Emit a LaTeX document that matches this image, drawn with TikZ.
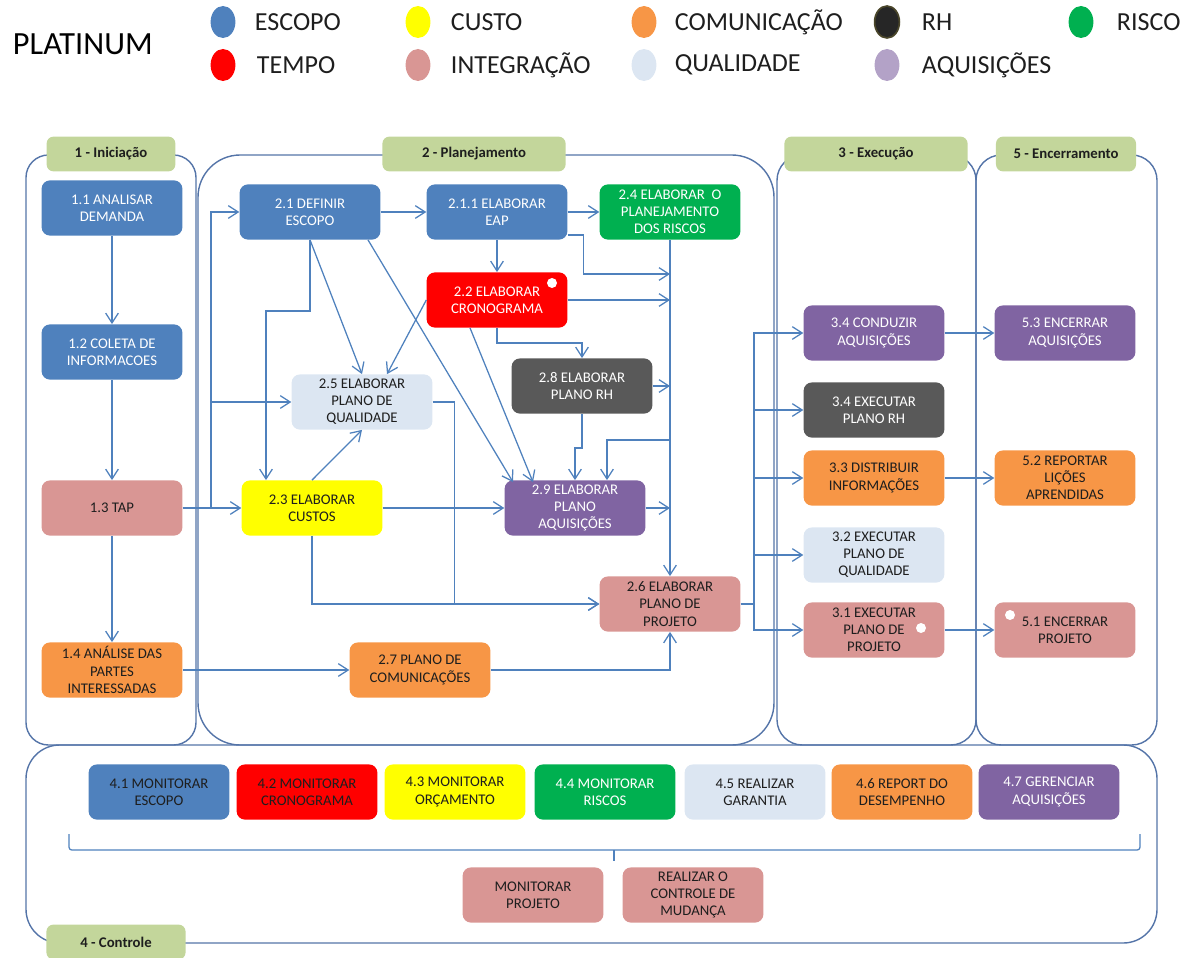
\documentclass[tikz,border=0pt]{standalone}
\usepackage{fontspec}
\setmainfont{Carlito}
\usetikzlibrary{arrows.meta, calc, shapes.geometric}
\definecolor{EscopoBlue}{RGB}{79,129,189}
\definecolor{TempoRed}{RGB}{255,0,0}
\definecolor{CustoYellow}{RGB}{255,255,0}
\definecolor{IntegPink}{RGB}{217,150,148}
\definecolor{ComOrange}{RGB}{247,150,70}
\definecolor{QualLight}{RGB}{220,230,242}
\definecolor{RhGray}{RGB}{89,89,89}
\definecolor{RiscoGreen}{RGB}{0,176,80}
\definecolor{AquPurple}{RGB}{128,100,162}
\definecolor{AquLegend}{RGB}{179,162,199}
\definecolor{RhOlive}{RGB}{74,70,42}
\definecolor{TabGreen}{RGB}{195,214,155}
\definecolor{LaneBlue}{RGB}{84,116,168}
\definecolor{ArrowBlue}{RGB}{79,129,189}
\definecolor{TextDark}{RGB}{30,30,30}

\begin{document}
\begin{tikzpicture}[x=0.025cm, y=-0.025cm,
  proc/.style={rounded corners=6pt, minimum width=3.52cm, minimum height=1.38cm,
               inner sep=1pt, align=center, text=white,
               font=\fontsize{10.5}{12.2}\selectfont},
  scopebox/.style={proc, fill=EscopoBlue},
  timebox/.style={proc, fill=TempoRed},
  costbox/.style={proc, fill=CustoYellow, text=TextDark},
  integbox/.style={proc, fill=IntegPink, text=TextDark},
  commbox/.style={proc, fill=ComOrange, text=TextDark},
  qualbox/.style={proc, fill=QualLight, text=TextDark},
  hrbox/.style={proc, fill=RhGray},
  riskbox/.style={proc, fill=RiscoGreen},
  buybox/.style={proc, fill=AquPurple},
  tab/.style={fill=TabGreen, rounded corners=5pt, minimum height=0.87cm,
              text=TextDark, font=\fontsize{10.5}{12}\selectfont\bfseries},
  lane/.style={draw=LaneBlue, line width=1pt},
  legdot/.style={ellipse, minimum width=0.62cm, minimum height=0.8cm, inner sep=0pt},
  legtxt/.style={anchor=west, text=TextDark, font=\fontsize{18.5}{20}\selectfont},
  arr/.style={-{Straight Barb[length=7pt, width=9pt]}, ArrowBlue, line width=0.9pt},
  link/.style={ArrowBlue, line width=0.9pt},
]
\useasboundingbox (0,0) rectangle (1195,958);

% legend
\node[anchor=west, font=\fontsize{23}{25}\selectfont] (titulo) at (8,44) {PLATINUM};
\node[legdot, fill=EscopoBlue]  (dotesc) at (223,22) {};
\node[legtxt] (txtesc) at (250,22) {ESCOPO};
\node[legdot, fill=TempoRed]    (dottmp) at (223,65) {};
\node[legtxt] (txttmp) at (252,65) {TEMPO};
\node[legdot, fill=CustoYellow] (dotcus) at (418,22) {};
\node[legtxt] (txtcus) at (446,22) {CUSTO};
\node[legdot, fill=IntegPink]   (dotint) at (418,65) {};
\node[legtxt] (txtint) at (446,65) {INTEGRAÇÃO};
\node[legdot, fill=ComOrange]   (dotcom) at (644,22) {};
\node[legtxt] (txtcom) at (670,22) {COMUNICAÇÃO};
\node[legdot, fill=QualLight]   (dotqua) at (644,65) {};
\node[legtxt] (txtqua) at (670,65) {QUALIDADE};
\node[legdot, fill=black!85, draw=RhOlive, line width=1.2pt] (dotrh) at (887,22) {};
\node[legtxt] (txtrh)  at (917,22) {RH};
\node[legdot, fill=AquLegend]   (dotaqu) at (887,65) {};
\node[legtxt] (txtaqu) at (917,65) {AQUISIÇÕES};
\node[legdot, fill=RiscoGreen]  (dotris) at (1081,22) {};
\node[legtxt] (txtris) at (1112,22) {RISCO};

% lanes
\draw[lane, rounded corners=16pt] (26,155) rectangle (196,745);
\draw[lane, rounded corners=30pt] (198,155) rectangle (774,745);
\draw[lane, rounded corners=18pt] (777,155) rectangle (976,745);
\draw[lane, rounded corners=18pt] (976,155) rectangle (1157,745);
\draw[lane, rounded corners=24pt] (26,745) rectangle (1157,943);

% phase tabs
\node[tab, minimum width=3.22cm] (tabini)  at (111,154) {1 - Iniciação};
\node[tab, minimum width=4.58cm] (tabplan) at (474,154) {2 - Planejamento};
\node[tab, minimum width=4.58cm] (tabexec) at (876,154) {3 - Execução};
\node[tab, minimum width=3.5cm]  (tabenc)  at (1066,154) {5 - Encerramento};
\node[tab, minimum width=3.48cm] (tabcont) at (116,942) {4 - Controle};

% 1 - iniciacao
\node[scopebox] (analisar) at (112,208) {1.1 ANALISAR\\DEMANDA};
\node[scopebox] (coleta)   at (112,352) {1.2 COLETA DE\\INFORMACOES};
\node[integbox] (tap)      at (112,508) {1.3 TAP};
\node[commbox]  (partes)   at (112,670) {1.4 ANÁLISE DAS\\PARTES\\INTERESSADAS};

% 2 - planejamento
\node[scopebox] (escopo)  at (310,212) {2.1 DEFINIR\\ESCOPO};
\node[scopebox] (eap)     at (497,212) {2.1.1 ELABORAR\\EAP};
\node[riskbox]  (riscos)  at (670,212) {2.4 ELABORAR\ \ O\\PLANEJAMENTO\\DOS RISCOS};
\node[timebox]  (crono)   at (497,300) {2.2 ELABORAR\\CRONOGRAMA};
\node[hrbox]    (rh)      at (582,386) {2.8 ELABORAR\\PLANO RH};
\node[qualbox]  (qualid)  at (362,402) {2.5 ELABORAR\\PLANO DE\\QUALIDADE};
\node[costbox]  (custos)  at (312,508) {2.3 ELABORAR\\CUSTOS};
\node[buybox]   (aquis)   at (575,508) {2.9 ELABORAR\\PLANO\\AQUISIÇÕES};
\node[integbox] (projeto) at (670,604) {2.6 ELABORAR\\PLANO DE\\PROJETO};
\node[commbox]  (comunic) at (420,670) {2.7 PLANO DE\\COMUNICAÇÕES};

% 3 - execucao
\node[buybox]   (conduzir) at (874,333) {3.4 CONDUZIR\\AQUISIÇÕES};
\node[hrbox]    (execrh)   at (874,410) {3.4 EXECUTAR\\PLANO RH};
\node[commbox]  (distrib)  at (874,478) {3.3 DISTRIBUIR\\INFORMAÇÕES};
\node[qualbox]  (execqual) at (874,555) {3.2 EXECUTAR\\PLANO DE\\QUALIDADE};
\node[integbox] (execproj) at (874,630) {3.1 EXECUTAR\\PLANO DE\\PROJETO};

% 5 - encerramento
\node[buybox]   (encaquis) at (1065,333) {5.3 ENCERRAR\\AQUISIÇÕES};
\node[commbox]  (licoes)   at (1065,478) {5.2 REPORTAR\\LIÇÕES\\APRENDIDAS};
\node[integbox] (encproj)  at (1065,630) {5.1 ENCERRAR\\PROJETO};

% 4 - controle
\node[scopebox, text=TextDark] (monesc)  at (159,792) {4.1 MONITORAR\\ESCOPO};
\node[timebox, text=TextDark]  (moncron) at (307,792) {4.2 MONITORAR\\CRONOGRAMA};
\node[costbox]  (monorc)   at (455,792) {4.3 MONITORAR\\ORÇAMENTO};
\node[riskbox]  (monris)   at (605,792) {4.4 MONITORAR\\RISCOS};
\node[qualbox]  (garantia) at (755,792) {4.5 REALIZAR\\GARANTIA};
\node[commbox]  (desemp)   at (902,792) {4.6 REPORT DO\\DESEMPENHO};
\node[buybox]   (gerenc)   at (1049,792) {4.7 GERENCIAR\\AQUISIÇÕES};
\node[integbox] (monproj)  at (533,895) {MONITORAR\\PROJETO};
\node[integbox] (mudanca)  at (693,895) {REALIZAR O\\CONTROLE DE\\MUDANÇA};
\draw[link, rounded corners=2pt] (69,834) -- (69,850) -- (1140,850) -- (1140,834);
\draw[link] (614,850) -- (614,861);

% markers
\fill[white] (552,283) circle (5);
\fill[white] (921,628) circle (5);
\fill[white] (1010,615) circle (5);

% junctions
\coordinate (jtap)  at (211,508);
\coordinate (b1)    at (670,274);
\coordinate (b2)    at (670,440);
\coordinate (jexec) at (754,604);

% iniciacao flow
\draw[arr] (analisar) -- (coleta);
\draw[arr] (coleta) -- (tap);
\draw[arr] (tap) -- (partes);
\draw[arr] (tap) -- (custos);
\draw[arr] (jtap) |- (escopo.west);
\draw[arr] (jtap |- qualid.west) -- (qualid.west);
\draw[arr] (partes) -- (comunic);

% planejamento flow
\draw[arr] (escopo) -- (eap);
\draw[arr] (eap) -- (riscos);
\draw[arr] (eap) -- (crono);
\draw[arr] (riscos) -- (projeto);
\draw[arr] ($(eap.east)+(0,23)$) -- ++(16,0) |- (b1);
\draw[arr] (crono.east) -- (crono.east -| b1);
\draw[arr] (rh.east) -- (rh.east -| b1);
\draw[arr] (aquis.east) -- (aquis.east -| b1);
\draw[arr] (b2) -| ($(aquis.north)+(32,0)$);
\draw[arr] (rh.south) -- ++(0,34) -| (aquis.north);
\draw[arr] (crono.south) -- ++(0,15) -| (rh.north);
\draw[arr] ($(crono.south)+(-27,0)$) -- ($(aquis.north)+(-42,2)$);
\draw[arr] ($(escopo.south)+(58,0)$) -- ($(aquis.north)+(-62,2)$);
\draw[arr] (escopo.south) -- (qualid.north);
\draw[arr] (crono.west) -- ($(qualid.north)+(25,0)$);
\draw[arr] (escopo.south) -- ++(0,71) -| ($(custos.north)+(-46,0)$);
\draw[arr] (custos.north) -- (qualid.south);
\draw[arr] (custos) -- (aquis);
\draw[arr] (qualid.east) -- ++(22,0) |- (projeto.west);
\draw[arr] (custos.south) |- (projeto.west);
\draw[arr] (comunic.east) -| (projeto.south);

% execucao / encerramento flow
\draw[link] (projeto.east) -- (jexec);
\draw[arr] (jexec) |- (conduzir.west);
\draw[arr] (jexec |- execrh.west) -- (execrh.west);
\draw[arr] (jexec |- distrib.west) -- (distrib.west);
\draw[arr] (jexec |- execqual.west) -- (execqual.west);
\draw[arr] (jexec) |- (execproj.west);
\draw[arr] (conduzir) -- (encaquis);
\draw[arr] (distrib) -- (licoes);
\draw[arr] (execproj) -- (encproj);
\end{tikzpicture}
\end{document}
